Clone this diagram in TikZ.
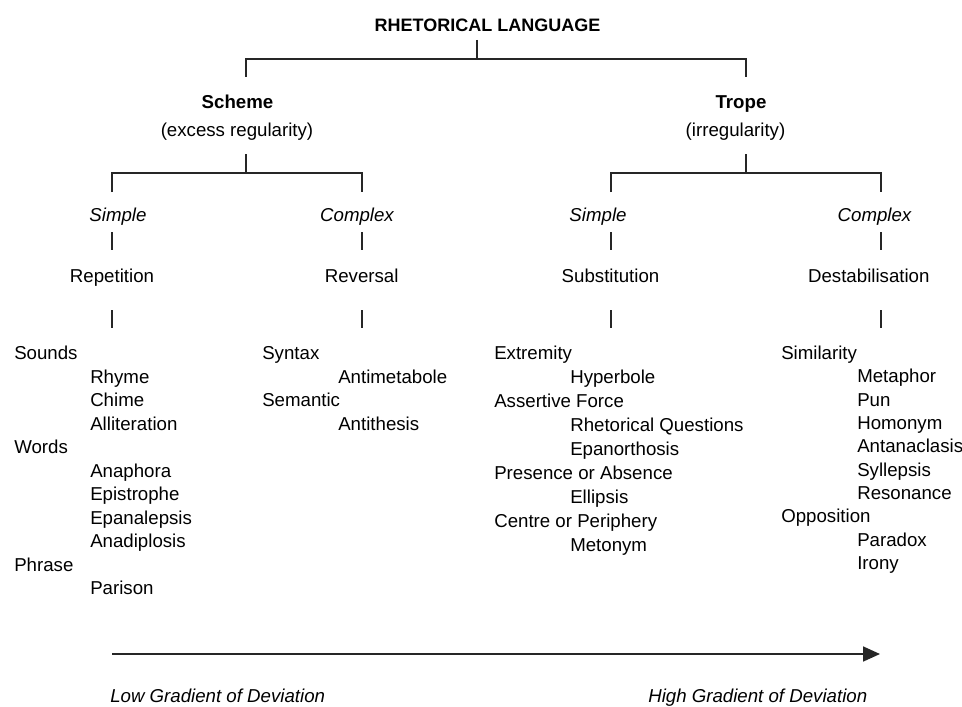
\documentclass[tikz,border=0pt]{standalone}
\usepackage{fontspec}
\setmainfont{Liberation Sans}
\usetikzlibrary{arrows.meta}
\begin{document}
\begin{tikzpicture}[x=0.75pt,y=-0.75pt,
  lbl/.style={inner sep=0pt, font=\fontsize{14}{16}\selectfont, text height=10pt, text depth=0pt},
  it/.style={lbl, font=\fontsize{14}{16}\selectfont\itshape},
  head/.style={lbl, font=\fontsize{14}{16}\selectfont\bfseries},
  ttl/.style={inner sep=0pt, font=\fontsize{13.5}{16}\selectfont\bfseries, text height=9.7pt, text depth=0pt},
  lw/.style={lbl, anchor=west},
  conn/.style={line width=1.3pt, black!85},
]
\fill[white] (0,0) rectangle (962,706);
\useasboundingbox (0,0) rectangle (962,706);

% ---- title
\node[ttl] (rl) at (487.5,25) {RHETORICAL LANGUAGE};
\coordinate (rlA) at (477,40);
\coordinate (rlB) at (477,59);
\coordinate (schT) at (246,77);
\coordinate (troT) at (746,77);
\draw[conn] (rlA) -- (rlB);
\draw[conn] (schT) -- (schT |- rlB) -- (troT |- rlB) -- (troT);

% ---- Scheme branch
\node[head] (sch) at (237.5,102) {Scheme};
\node[lbl] (schd) at (237,130) {(excess regularity)};
\coordinate (schA) at (246,154);
\coordinate (schB) at (246,173);
\coordinate (ssT) at (112,192);
\coordinate (scT) at (362,192);
\draw[conn] (schA) -- (schB);
\draw[conn] (ssT) -- (ssT |- schB) -- (scT |- schB) -- (scT);

\node[it] (ss) at (118,215) {Simple};
\node[it] (sc) at (357,215) {Complex};
\coordinate (ssA) at (112,232); \coordinate (ssB) at (112,250);
\coordinate (scA) at (362,232); \coordinate (scB) at (362,250);
\draw[conn] (ssA) -- (ssB);
\draw[conn] (scA) -- (scB);

\node[lbl] (rep) at (112,276) {Repetition};
\node[lbl] (rev) at (361.7,276) {Reversal};
\coordinate (repA) at (112,310); \coordinate (repB) at (112,328);
\coordinate (revA) at (362,310); \coordinate (revB) at (362,328);
\draw[conn] (repA) -- (repB);
\draw[conn] (revA) -- (revB);

% ---- Trope branch
\node[head] (tro) at (741,102) {Trope};
\node[lbl] (trod) at (735.5,130) {(irregularity)};
\coordinate (troA) at (746,154);
\coordinate (troB) at (746,173);
\coordinate (tsT) at (611,192);
\coordinate (tcT) at (881,192);
\draw[conn] (troA) -- (troB);
\draw[conn] (tsT) -- (tsT |- troB) -- (tcT |- troB) -- (tcT);

\node[it] (ts) at (598,215) {Simple};
\node[it] (tc) at (874.5,215) {Complex};
\coordinate (tsA) at (611,232); \coordinate (tsB) at (611,250);
\coordinate (tcA) at (881,232); \coordinate (tcB) at (881,250);
\draw[conn] (tsA) -- (tsB);
\draw[conn] (tcA) -- (tcB);

\node[lbl] (sub) at (610.5,276) {Substitution};
\node[lbl] (des) at (868.8,276) {Destabilisation};
\coordinate (subA) at (611,310); \coordinate (subB) at (611,328);
\coordinate (desA) at (881,310); \coordinate (desB) at (881,328);
\draw[conn] (subA) -- (subB);
\draw[conn] (desA) -- (desB);

% ---- Scheme / Simple list
\node[lw] (a0)  at (14,353)    {Sounds};
\node[lw] (a1)  at (90,376.5)  {Rhyme};
\node[lw] (a2)  at (90,400)    {Chime};
\node[lw] (a3)  at (90,423.5)  {Alliteration};
\node[lw] (a4)  at (14,447)    {Words};
\node[lw] (a5)  at (90,470.5)  {Anaphora};
\node[lw] (a6)  at (90,494)    {Epistrophe};
\node[lw] (a7)  at (90,517.5)  {Epanalepsis};
\node[lw] (a8)  at (90,541)    {Anadiplosis};
\node[lw] (a9)  at (14,565)    {Phrase};
\node[lw] (a10) at (90,588)    {Parison};

% ---- Scheme / Complex list
\node[lw] (b0) at (262,353)   {Syntax};
\node[lw] (b1) at (338,376.5) {Antimetabole};
\node[lw] (b2) at (262,400)   {Semantic};
\node[lw] (b3) at (338,423.5) {Antithesis};

% ---- Trope / Simple list
\node[lw] (c0) at (494,353)   {Extremity};
\node[lw] (c1) at (570,377)   {Hyperbole};
\node[lw] (c2) at (494,401)   {Assertive Force};
\node[lw] (c3) at (570,425)   {Rhetorical Questions};
\node[lw] (c4) at (570,449)   {Epanorthosis};
\node[lw] (c5) at (494,473)   {Presence or Absence};
\node[lw] (c6) at (570,497)   {Ellipsis};
\node[lw] (c7) at (494,521)   {Centre or Periphery};
\node[lw] (c8) at (570,545)   {Metonym};

% ---- Trope / Complex list
\node[lw] (d0) at (781,353)   {Similarity};
\node[lw] (d1) at (857,376.3) {Metaphor};
\node[lw] (d2) at (857,399.6) {Pun};
\node[lw] (d3) at (857,422.9) {Homonym};
\node[lw] (d4) at (857,446.2) {Antanaclasis};
\node[lw] (d5) at (857,469.5) {Syllepsis};
\node[lw] (d6) at (857,492.8) {Resonance};
\node[lw] (d7) at (781,516.1) {Opposition};
\node[lw] (d8) at (857,539.4) {Paradox};
\node[lw] (d9) at (857,562.7) {Irony};

% ---- gradient arrow
\coordinate (gA) at (112,654);
\coordinate (gB) at (880,654);
\draw[conn, -{Triangle[length=12.75pt,width=11.25pt]}] (gA) -- (gB);
\node[it, anchor=west] (lo) at (110,696) {Low Gradient of Deviation};
\node[it, anchor=west] (hi) at (648,696) {High Gradient of Deviation};
\end{tikzpicture}
\end{document}
